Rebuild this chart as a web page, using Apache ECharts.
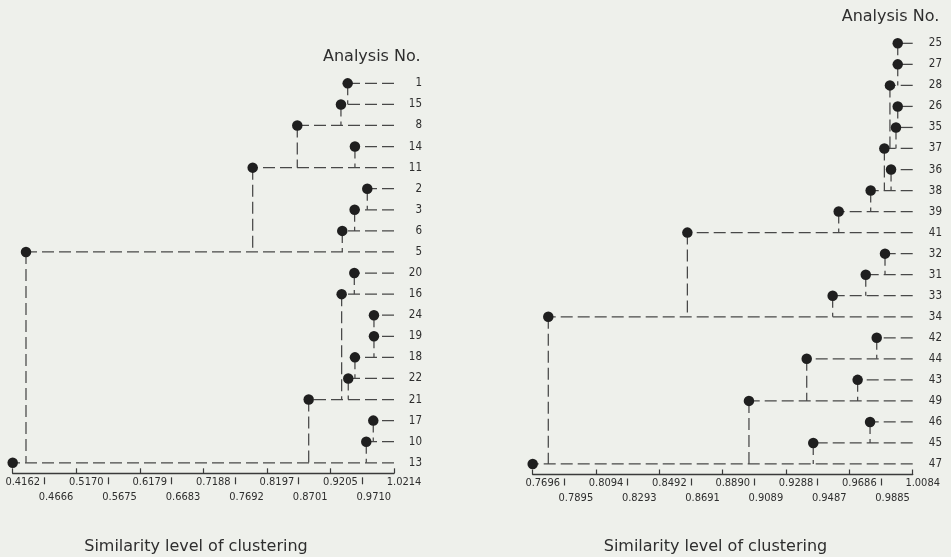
<!DOCTYPE html>
<html>
<head>
<meta charset="utf-8">
<title>Cluster dendrograms</title>
<script src="https://cdn.jsdelivr.net/npm/echarts@6/dist/echarts.min.js"></script>
<style>
  html, body { margin: 0; padding: 0; background: #eef0eb; }
  #chart { width: 951px; height: 557px; }
</style>
</head>
<body>
<div id="chart"></div>
<script>
// ---- Left dendrogram: analyses 1–24 ----
const leftRows   = ['1', '15', '8', '14', '11', '2', '3', '6', '5', '20', '16', '24', '19', '18', '22', '21', '17', '10', '13'];
const leftLevels = [0.9479, 0.9372, 0.8679, 0.9594, 0.7971, 0.9790, 0.9589, 0.9393, 0.4373, 0.9584, 0.9383, 0.9896, 0.9896, 0.9594, 0.9488, 0.8860, 0.9885, 0.9774, 0.4162];
// row each analysis joins (vertical link goes down to it); null = root
const leftJoins  = ['15', '8', '11', '11', '5', '3', '6', '5', '13', '16', '21', '19', '18', '22', '21', '13', '10', '13', null];
const leftMajorTicks = [0.4162, 0.5170, 0.6179, 0.7188, 0.8197, 0.9205, 1.0214];
const leftMinorTicks = [0.4666, 0.5675, 0.6683, 0.7692, 0.8701, 0.9710];

// ---- Right dendrogram: analyses 25–49 ----
const rightRows   = ['25', '27', '28', '26', '35', '37', '36', '38', '39', '41', '32', '31', '33', '34', '42', '44', '43', '49', '46', '45', '47'];
const rightLevels = [0.9990, 0.9990, 0.9941, 0.9990, 0.9979, 0.9906, 0.9948, 0.9820, 0.9619, 0.8668, 0.9910, 0.9789, 0.9581, 0.7794, 0.9858, 0.9418, 0.9738, 0.9055, 0.9816, 0.9459, 0.7696];
const rightJoins  = ['27', '28', '37', '35', '37', '38', '38', '39', '41', '34', '31', '33', '34', '47', '44', '49', '49', '47', '45', '47', null];
const rightMajorTicks = [0.7696, 0.8094, 0.8492, 0.8890, 0.9288, 0.9686, 1.0084];
const rightMinorTicks = [0.7895, 0.8293, 0.8691, 0.9089, 0.9487, 0.9885];

const axisTitle = 'Similarity level of clustering';
const rowTitle = 'Analysis No.';

const INK = '#2e2e2e';
const LINE = '#484848';
const DOT = '#1f1f1f';
const NUM_FONT = 'DejaVu Sans Condensed';
const TITLE_FONT = 'DejaVu Sans';

function linkData(levels, rows, joins) {
  return levels.map((v, i) => [v, i, joins[i] === null ? -1 : rows.indexOf(joins[i])]);
}

// Each row: dashed rule from the right edge back to its merge level,
// then a dashed drop down to the row it merges into.
function linkRenderer(xMax) {
  return function (params, api) {
    const level = api.value(0), row = api.value(1), join = api.value(2);
    const p = api.coord([level, row]);
    const e = api.coord([xMax, row]);
    const style = { stroke: LINE, lineWidth: 1.25, lineDash: [12, 5], fill: null };
    const children = [{
      type: 'line',
      shape: { x1: e[0], y1: e[1], x2: p[0], y2: p[1] },
      style: style
    }];
    if (join >= 0) {
      const q = api.coord([level, join]);
      children.push({
        type: 'line',
        shape: { x1: p[0], y1: p[1], x2: q[0], y2: q[1] },
        style: style
      });
    }
    return { type: 'group', children: children };
  };
}

function fmt(v) { return Number(v).toFixed(4); }

function xAxesFor(gridIndex, min, max, major, minor) {
  return [
    {
      type: 'value', gridIndex: gridIndex, min: min, max: max, position: 'bottom',
      splitLine: { show: false },
      axisLine: { show: true, lineStyle: { color: '#3a3a3a', width: 1.3 } },
      axisTick: { show: true, inside: true, length: 5, customValues: major,
                  lineStyle: { color: '#3a3a3a', width: 1.2 } },
      axisLabel: { show: true, customValues: major, formatter: fmt, margin: 3.5,
                   padding: [0, 0, 0, 20], color: INK, fontFamily: NUM_FONT, fontSize: 11 }
    },
    {
      type: 'value', gridIndex: gridIndex, min: min, max: max, position: 'bottom', offset: 4,
      splitLine: { show: false },
      axisLine: { show: false },
      axisTick: { show: true, inside: false, length: 7, customValues: minor,
                  lineStyle: { color: '#3a3a3a', width: 1.2 } },
      axisLabel: { show: true, customValues: minor, formatter: fmt, margin: 14.5,
                   padding: [0, 0, 0, 23], color: INK, fontFamily: NUM_FONT, fontSize: 11 }
    }
  ];
}

function yAxisFor(gridIndex, rows, margin) {
  return {
    type: 'category', gridIndex: gridIndex, data: rows, inverse: true, position: 'right',
    boundaryGap: true,
    axisLine: { show: false }, axisTick: { show: false }, splitLine: { show: false },
    axisLabel: { interval: 0, align: 'right', margin: margin, color: INK,
                 fontFamily: NUM_FONT, fontSize: 11.5 }
  };
}

const leftMin = leftMajorTicks[0], leftMax = leftMajorTicks[leftMajorTicks.length - 1];
const rightMin = rightMajorTicks[0], rightMax = rightMajorTicks[rightMajorTicks.length - 1];

const chart = echarts.init(document.getElementById('chart'), null, { renderer: 'canvas' });

chart.setOption({
  backgroundColor: '#eef0eb',
  animation: false,
  grid: [
    { left: 12.7, width: 381.3, top: 72.8, height: 400.5 },
    { left: 532.7, width: 380, top: 32.8, height: 441.7 }
  ],
  xAxis: [].concat(
    xAxesFor(0, leftMin, leftMax, leftMajorTicks, leftMinorTicks),
    xAxesFor(1, rightMin, rightMax, rightMajorTicks, rightMinorTicks)
  ),
  yAxis: [
    yAxisFor(0, leftRows, 28),
    yAxisFor(1, rightRows, 29.3)
  ],
  series: [
    {
      type: 'custom', xAxisIndex: 0, yAxisIndex: 0, clip: false,
      renderItem: linkRenderer(leftMax),
      encode: { x: 0, y: 1 },
      data: linkData(leftLevels, leftRows, leftJoins), z: 2
    },
    {
      type: 'scatter', xAxisIndex: 0, yAxisIndex: 0, clip: false,
      symbol: 'circle', symbolSize: 10.5,
      itemStyle: { color: DOT, opacity: 1 },
      data: leftLevels.map((v, i) => [v, i]), z: 3
    },
    {
      type: 'custom', xAxisIndex: 2, yAxisIndex: 1, clip: false,
      renderItem: linkRenderer(rightMax),
      encode: { x: 0, y: 1 },
      data: linkData(rightLevels, rightRows, rightJoins), z: 2
    },
    {
      type: 'scatter', xAxisIndex: 2, yAxisIndex: 1, clip: false,
      symbol: 'circle', symbolSize: 10.5,
      itemStyle: { color: DOT, opacity: 1 },
      data: rightLevels.map((v, i) => [v, i]), z: 3
    }
  ],
  graphic: [
    { type: 'text', x: 323, y: 56.9,
      style: { text: rowTitle, fill: INK, font: '16px "' + TITLE_FONT + '"', align: 'left', verticalAlign: 'middle' } },
    { type: 'text', x: 841.7, y: 16.4,
      style: { text: rowTitle, fill: INK, font: '16px "' + TITLE_FONT + '"', align: 'left', verticalAlign: 'middle' } },
    { type: 'text', x: 196, y: 546.9,
      style: { text: axisTitle, fill: INK, font: '16px "' + TITLE_FONT + '"', align: 'center', verticalAlign: 'middle' } },
    { type: 'text', x: 715.5, y: 546.9,
      style: { text: axisTitle, fill: INK, font: '16px "' + TITLE_FONT + '"', align: 'center', verticalAlign: 'middle' } }
  ]
});
</script>
</body>
</html>
